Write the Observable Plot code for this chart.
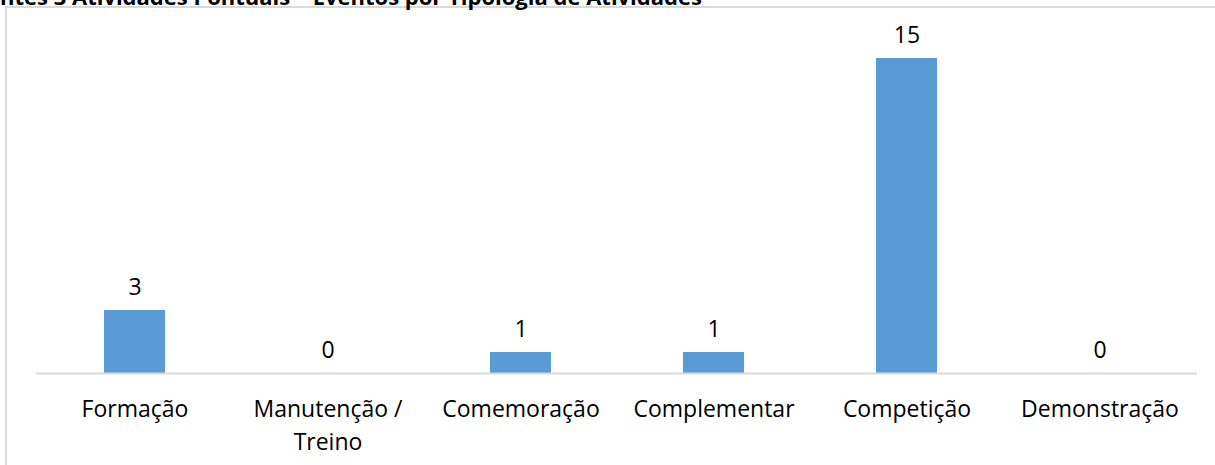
<!DOCTYPE html>
<html>
<head>
<meta charset="utf-8">
<script src="https://cdn.jsdelivr.net/npm/d3@7"></script>
<script src="https://cdn.jsdelivr.net/npm/@observablehq/plot@0.6"></script>
<style>
  html, body { margin: 0; padding: 0; background: #fff; overflow: hidden; }
  #wrap { position: relative; width: 1215px; height: 465px; overflow: hidden; font-family: "Open Sans", sans-serif; }
  #border { position: absolute; left: 5px; top: 6px; width: 1400px; height: 600px; border: 2px solid #d9d9d9; box-sizing: border-box; }
  #title { position: absolute; left: 0; top: -15px; font-size: 22px; line-height: 22px; font-weight: bold; white-space: nowrap; color: #000; }
  #chart { position: absolute; left: 0; top: 0; }
</style>
</head>
<body>
<div id="wrap">
  <div id="border"></div>
  <div id="title">ntes 3 Atividades Pontuais – Eventos por Tipologia de Atividades</div>
  <div id="chart"></div>
</div>
<script>
const categories = ["Formação", "Manutenção / Treino", "Comemoração", "Complementar", "Competição", "Demonstração"];
const values = [3, 0, 1, 1, 15, 0];
const tickLabels = ["Formação", "Manutenção /\nTreino", "Comemoração", "Complementar", "Competição", "Demonstração"];

const data = categories.map((c, i) => ({category: c, value: values[i], label: tickLabels[i]}));

const chart = Plot.plot({
  width: 1215,
  height: 465,
  marginLeft: 36,
  marginRight: 18,
  marginTop: 58,
  marginBottom: 92,
  style: {fontFamily: "'Open Sans', sans-serif", background: "transparent", color: "#000"},
  x: {domain: categories, paddingInner: 0.685, paddingOuter: 0.3425, axis: null},
  y: {domain: [0, 15], axis: null},
  marks: [
    Plot.barY(data, {x: "category", y: "value", fill: "#5b9bd5"}),
    Plot.ruleY([0], {stroke: "#d9d9d9", strokeWidth: 2}),
    Plot.text(data, {x: "category", y: "value", text: d => String(d.value), lineAnchor: "bottom", dy: -16, fontSize: 23, fill: "#000"}),
    Plot.text(data, {x: "category", y: 0, text: "label", lineAnchor: "top", dy: 21, fontSize: 23, lineHeight: 1.4, fill: "#000"})
  ]
});
document.getElementById("chart").appendChild(chart);
</script>
</body>
</html>
